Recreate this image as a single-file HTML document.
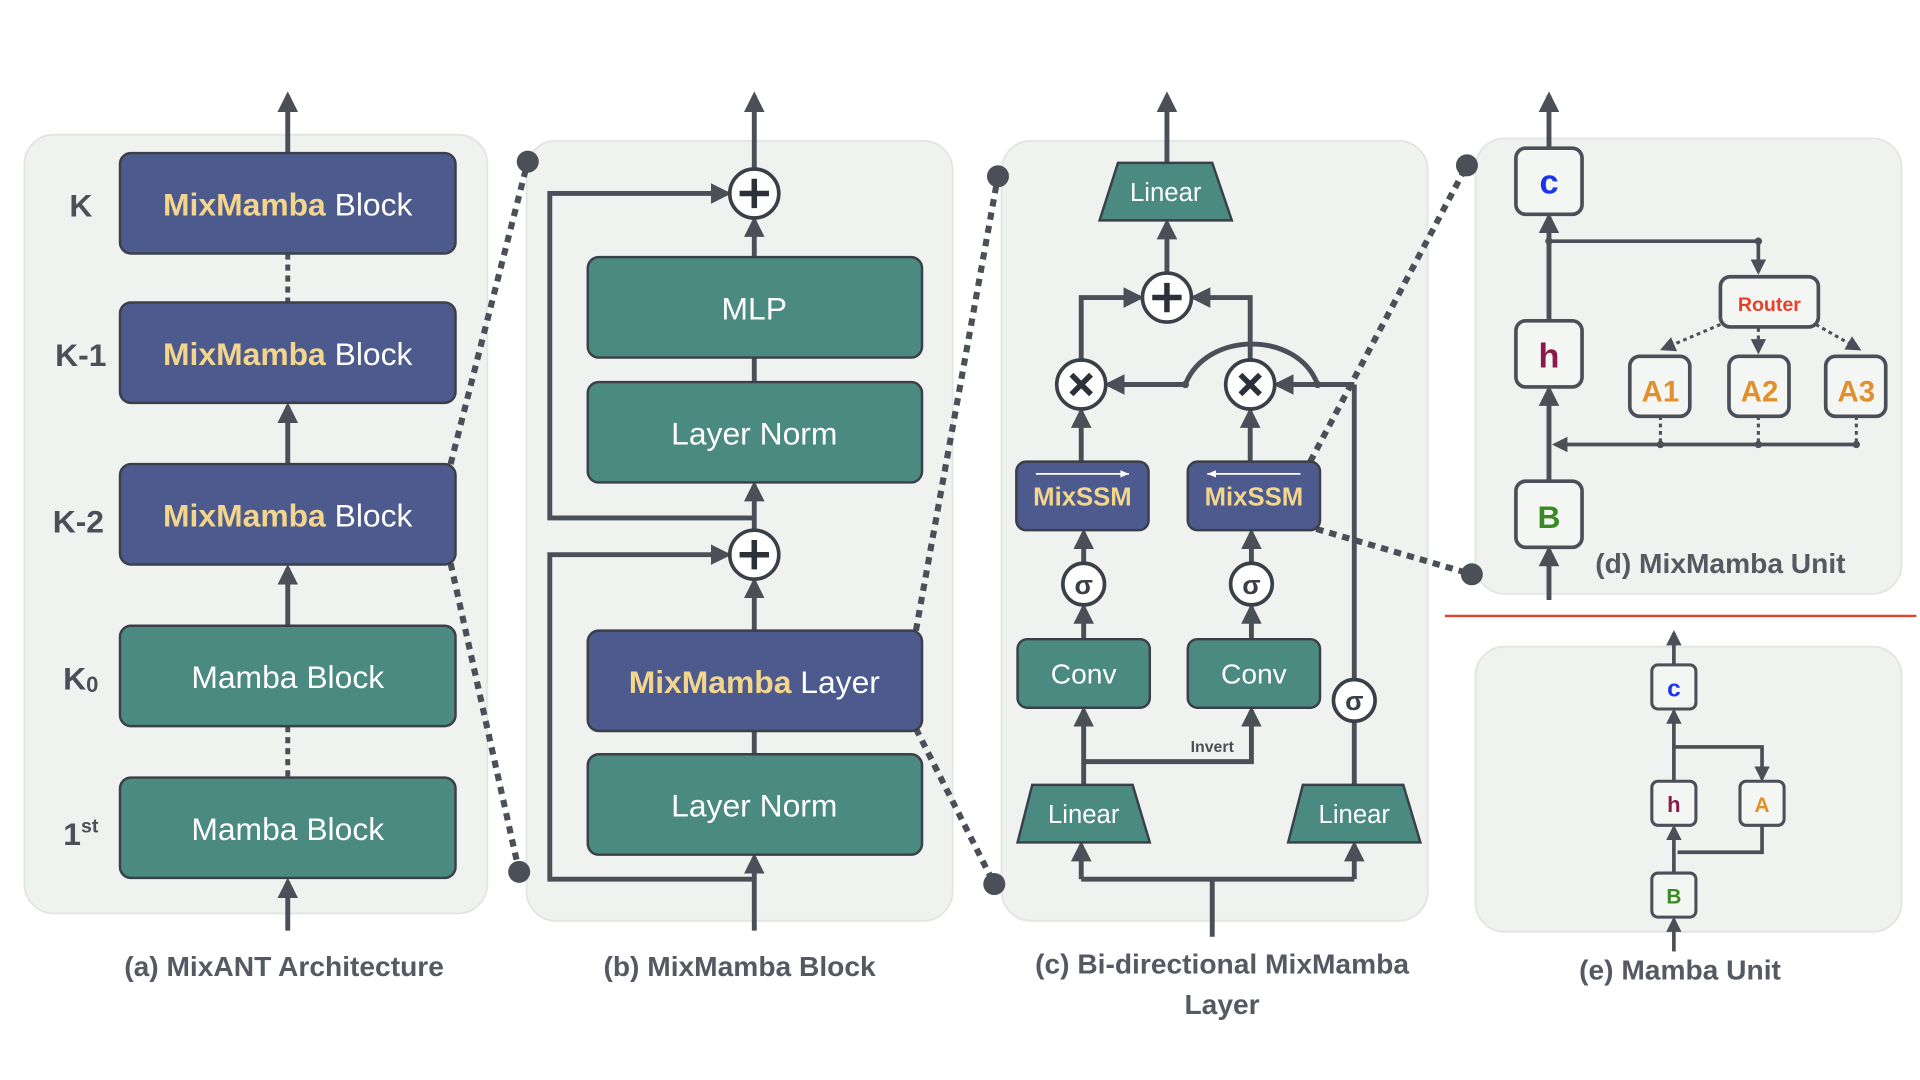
<!DOCTYPE html>
<html><head><meta charset="utf-8"><style>
html,body{margin:0;padding:0;background:#fff;}
svg{display:block;}
text{font-family:"Liberation Sans",sans-serif;}
</style></head><body>
<svg width="1920" height="1080" viewBox="0 0 1568 882" xmlns="http://www.w3.org/2000/svg">
<defs>
<marker id="ah" viewBox="0 0 10 10" refX="8" refY="5" markerWidth="4.2" markerHeight="4.2" orient="auto-start-reverse"><path d="M0,0 L10,5 L0,10 z" fill="#4b4f57"/></marker>
<marker id="as" viewBox="0 0 10 10" refX="8" refY="5" markerWidth="5" markerHeight="5" orient="auto"><path d="M0,0 L10,5 L0,10 z" fill="#4b4f57"/></marker>
</defs>
<g fill="#eff2ef" stroke="#e2e5e1" stroke-width="1.5">
<rect x="20" y="110" width="378" height="636" rx="24"/>
<rect x="430" y="115" width="348" height="637" rx="24"/>
<rect x="818" y="115" width="348" height="637" rx="24"/>
<rect x="1205" y="113" width="348" height="372" rx="24"/>
<rect x="1205" y="528" width="348" height="233" rx="24"/>
</g>
<g stroke="#4b4f57" stroke-width="4" fill="none">
<!-- panel a -->
<line x1="235" y1="125" x2="235" y2="78" marker-end="url(#ah)"/>
<line x1="235" y1="207" x2="235" y2="247" stroke-dasharray="5,4"/>
<line x1="235" y1="379" x2="235" y2="332" marker-end="url(#ah)"/>
<line x1="235" y1="511" x2="235" y2="464" marker-end="url(#ah)"/>
<line x1="235" y1="593" x2="235" y2="635" stroke-dasharray="5,4"/>
<line x1="235" y1="760" x2="235" y2="720" marker-end="url(#ah)"/>
<line x1="368" y1="379" x2="431" y2="132" stroke-dasharray="6,5" stroke-width="5"/>
<line x1="368" y1="460" x2="424" y2="712" stroke-dasharray="6,5" stroke-width="5"/>
<!-- panel b -->
<line x1="616" y1="138" x2="616" y2="78" marker-end="url(#ah)"/>
<line x1="616" y1="210" x2="616" y2="180" marker-end="url(#ah)"/>
<line x1="616" y1="292" x2="616" y2="312"/>
<line x1="616" y1="433" x2="616" y2="396" marker-end="url(#ah)"/>
<line x1="616" y1="515" x2="616" y2="475" marker-end="url(#ah)"/>
<line x1="616" y1="597" x2="616" y2="616"/>
<line x1="616" y1="760" x2="616" y2="700" marker-end="url(#ah)"/>
<polyline points="616,423 449,423 449,158 594,158" marker-end="url(#ah)"/>
<polyline points="616,718 449,718 449,453 594,453" marker-end="url(#ah)"/>
<line x1="748" y1="515" x2="815" y2="144" stroke-dasharray="6,5" stroke-width="5"/>
<line x1="748" y1="595" x2="812" y2="722" stroke-dasharray="6,5" stroke-width="5"/>
<!-- panel c -->
<line x1="953" y1="133" x2="953" y2="78" marker-end="url(#ah)"/>
<line x1="953" y1="223" x2="953" y2="182" marker-end="url(#ah)"/>
<polyline points="990,765 990,718"/>
<line x1="883" y1="718" x2="1106" y2="718"/>
<line x1="883" y1="718" x2="883" y2="690" marker-end="url(#ah)"/>
<line x1="1106" y1="718" x2="1106" y2="690" marker-end="url(#ah)"/>
<line x1="885" y1="641" x2="885" y2="580" marker-end="url(#ah)"/>
<polyline points="885,622 1022,622 1022,580" marker-end="url(#ah)"/>
<line x1="885" y1="522" x2="885" y2="496" marker-end="url(#ah)"/>
<line x1="1022" y1="522" x2="1022" y2="496" marker-end="url(#ah)"/>
<line x1="885" y1="460" x2="885" y2="435" marker-end="url(#ah)"/>
<line x1="1022" y1="460" x2="1022" y2="435" marker-end="url(#ah)"/>
<line x1="883" y1="377" x2="883" y2="336" marker-end="url(#ah)"/>
<line x1="1021" y1="377" x2="1021" y2="336" marker-end="url(#ah)"/>
<line x1="1106" y1="641" x2="1106" y2="590"/>
<line x1="1106" y1="555" x2="1106" y2="314"/>
<line x1="1106" y1="314" x2="1043" y2="314" marker-end="url(#ah)"/>
<path d="M1076,314 C1060,270 985,270 968,314"/>
<line x1="968" y1="314" x2="905" y2="314" marker-end="url(#ah)"/>
<polyline points="883,294 883,243 931,243" marker-end="url(#ah)"/>
<polyline points="1021,294 1021,243 975,243" marker-end="url(#ah)"/>
<line x1="1070" y1="377" x2="1198" y2="135" stroke-dasharray="6,5" stroke-width="5"/>
<line x1="1075" y1="432" x2="1202" y2="469" stroke-dasharray="6,5" stroke-width="5"/>
<!-- panel d -->
<line x1="1265" y1="121" x2="1265" y2="78" marker-end="url(#ah)"/>
<line x1="1265" y1="262" x2="1265" y2="177" marker-end="url(#ah)"/>
<line x1="1265" y1="393" x2="1265" y2="318" marker-end="url(#ah)"/>
<line x1="1265" y1="490" x2="1265" y2="449" marker-end="url(#ah)"/>
<polyline points="1265,197 1436,197 1436,222" marker-end="url(#ah)" stroke-width="3"/>
<line x1="1516" y1="363" x2="1270" y2="363" stroke-width="3" marker-end="url(#ah)"/>
<g stroke-width="2.5" stroke-dasharray="3,3">
<line x1="1405" y1="265" x2="1358" y2="285" marker-end="url(#as)"/>
<line x1="1436" y1="268" x2="1436" y2="287" marker-end="url(#as)"/>
<line x1="1483" y1="265" x2="1518" y2="285" marker-end="url(#as)"/>
<line x1="1356" y1="340" x2="1356" y2="363"/>
<line x1="1436" y1="340" x2="1436" y2="363"/>
<line x1="1516" y1="340" x2="1516" y2="363"/>
</g>
<!-- panel e -->
<line x1="1367" y1="543" x2="1367" y2="517" marker-end="url(#ah)" stroke-width="3"/>
<line x1="1367" y1="638" x2="1367" y2="581" marker-end="url(#ah)" stroke-width="3"/>
<line x1="1367" y1="713" x2="1367" y2="676" marker-end="url(#ah)" stroke-width="3"/>
<line x1="1367" y1="777" x2="1367" y2="751" marker-end="url(#ah)" stroke-width="3"/>
<polyline points="1367,610 1439,610 1439,636" marker-end="url(#ah)" stroke-width="3"/>
<polyline points="1439,674 1439,696 1370,696" stroke-width="3"/>
</g>
<g fill="#4b4f57">
<circle cx="431" cy="132" r="9"/><circle cx="424" cy="712" r="9"/>
<circle cx="815" cy="144" r="9"/><circle cx="812" cy="722" r="9"/>
<circle cx="1198" cy="135" r="9"/><circle cx="1202" cy="469" r="9"/>
<circle cx="968" cy="314" r="3"/><circle cx="1076" cy="314" r="3"/>
<circle cx="1265" cy="197" r="3"/><circle cx="1436" cy="197" r="3"/>
<circle cx="1356" cy="363" r="3"/><circle cx="1436" cy="363" r="3"/><circle cx="1516" cy="363" r="3"/>
</g>
<line x1="1180" y1="503" x2="1565" y2="503" stroke="#e0442e" stroke-width="2"/>
<!-- panel a blocks -->
<g stroke="#3a3f48" stroke-width="2">
<rect x="98" y="125" width="274" height="82" rx="9" fill="#4c5a8d"/>
<rect x="98" y="247" width="274" height="82" rx="9" fill="#4c5a8d"/>
<rect x="98" y="379" width="274" height="82" rx="9" fill="#4c5a8d"/>
<rect x="98" y="511" width="274" height="82" rx="9" fill="#4a8a80"/>
<rect x="98" y="635" width="274" height="82" rx="9" fill="#4a8a80"/>
<rect x="480" y="210" width="273" height="82" rx="9" fill="#4a8a80"/>
<rect x="480" y="312" width="273" height="82" rx="9" fill="#4a8a80"/>
<rect x="480" y="515" width="273" height="82" rx="9" fill="#4c5a8d"/>
<rect x="480" y="616" width="273" height="82" rx="9" fill="#4a8a80"/>
<rect x="830" y="377" width="108" height="56" rx="8" fill="#4c5a8d"/>
<rect x="970" y="377" width="108" height="56" rx="8" fill="#4c5a8d"/>
<rect x="831" y="522" width="108" height="56" rx="8" fill="#4a8a80"/>
<rect x="970" y="522" width="108" height="56" rx="8" fill="#4a8a80"/>
<polygon points="913,133 990,133 1006,180 898,180" fill="#4a8a80"/>
<polygon points="843,641 925,641 939,688 831,688" fill="#4a8a80"/>
<polygon points="1064,641 1146,641 1160,688 1052,688" fill="#4a8a80"/>
</g>
<g stroke="#fff" stroke-width="1.5"><line x1="846" y1="387" x2="922" y2="387"/><line x1="986" y1="387" x2="1062" y2="387"/></g>
<path d="M922,387 l-7,-3 v6z M986,387 l7,-3 v6z" fill="#fff"/>
<g font-size="26" text-anchor="middle" fill="#fff">
<text x="235" y="176"><tspan fill="#f3d58c" font-weight="bold">MixMamba</tspan> Block</text>
<text x="235" y="298"><tspan fill="#f3d58c" font-weight="bold">MixMamba</tspan> Block</text>
<text x="235" y="430"><tspan fill="#f3d58c" font-weight="bold">MixMamba</tspan> Block</text>
<text x="235" y="562">Mamba Block</text>
<text x="235" y="686">Mamba Block</text>
<text x="616" y="261">MLP</text>
<text x="616" y="363">Layer Norm</text>
<text x="616" y="566"><tspan fill="#f3d58c" font-weight="bold">MixMamba</tspan> Layer</text>
<text x="616" y="667">Layer Norm</text>
</g>
<g font-size="21" text-anchor="middle" fill="#fff">
<text x="952" y="164">Linear</text>
<text x="885" y="672">Linear</text>
<text x="1106" y="672">Linear</text>
<text x="885" y="558" font-size="23">Conv</text>
<text x="1024" y="558" font-size="23">Conv</text>
<text x="884" y="413" fill="#f3d58c" font-weight="bold">MixSSM</text>
<text x="1024" y="413" fill="#f3d58c" font-weight="bold">MixSSM</text>
</g>
<g font-size="26" font-weight="bold" fill="#4b4f57" text-anchor="middle">
<text x="66" y="177">K</text><text x="66" y="299">K-1</text><text x="64" y="435">K-2</text>
<text x="66" y="563">K<tspan font-size="18" dy="2">0</tspan></text>
<text x="66" y="690">1<tspan font-size="16" dy="-10">st</tspan></text>
</g>
<!-- circles -->
<g fill="#fff" stroke="#3a3f48" stroke-width="3">
<circle cx="616" cy="158" r="20"/><circle cx="616" cy="453" r="20"/><circle cx="953" cy="243" r="20"/>
<circle cx="883" cy="314" r="20"/><circle cx="1021" cy="314" r="20"/>
<circle cx="885" cy="477" r="17"/><circle cx="1022" cy="477" r="17"/><circle cx="1106" cy="572" r="17"/>
</g>
<g stroke="#2c3038" stroke-width="4.5">
<path d="M604,158h24M616,146v24M604,453h24M616,441v24M941,243h24M953,231v24"/>
<path d="M875,306l16,16M891,306l-16,16M1013,306l16,16M1029,306l-16,16"/>
</g>
<g font-size="22" font-weight="bold" fill="#3a3f48" text-anchor="middle">
<text x="885" y="485">σ</text><text x="1022" y="485">σ</text><text x="1106" y="580">σ</text>
</g>
<text x="990" y="614" font-size="13" font-weight="bold" fill="#4b4f57" text-anchor="middle">Invert</text>
<!-- panel d boxes -->
<g fill="#f4f6f4" stroke="#4b4f57" stroke-width="3">
<rect x="1238" y="121" width="54" height="54" rx="8"/>
<rect x="1238" y="262" width="54" height="54" rx="8"/>
<rect x="1238" y="393" width="54" height="54" rx="8"/>
<rect x="1405" y="226" width="80" height="41" rx="8"/>
<rect x="1331" y="291" width="49" height="49" rx="8"/>
<rect x="1412" y="291" width="49" height="49" rx="8"/>
<rect x="1491" y="291" width="49" height="49" rx="8"/>
<rect x="1349" y="543" width="36" height="36" rx="5" stroke-width="2.5"/>
<rect x="1349" y="638" width="36" height="36" rx="5" stroke-width="2.5"/>
<rect x="1349" y="713" width="36" height="36" rx="5" stroke-width="2.5"/>
<rect x="1421" y="638" width="36" height="36" rx="5" stroke-width="2.5"/>
</g>
<g font-weight="bold" text-anchor="middle">
<text x="1265" y="158" font-size="28" fill="#1a35f0">c</text>
<text x="1265" y="300" font-size="28" fill="#8a1a4a">h</text>
<text x="1265" y="431" font-size="26" fill="#3a8a24">B</text>
<text x="1445" y="254" font-size="16" fill="#e8402a">Router</text>
<text x="1356" y="328" font-size="24" fill="#e0902c">A1</text>
<text x="1437" y="328" font-size="24" fill="#e0902c">A2</text>
<text x="1516" y="328" font-size="24" fill="#e0902c">A3</text>
<text x="1367" y="569" font-size="20" fill="#1a35f0">c</text>
<text x="1367" y="663" font-size="18" fill="#8a1a4a">h</text>
<text x="1367" y="738" font-size="17" fill="#3a8a24">B</text>
<text x="1439" y="663" font-size="17" fill="#e0902c">A</text>
</g>
<g font-size="23" font-weight="bold" fill="#555a62" text-anchor="middle">
<text x="232" y="797">(a) MixANT Architecture</text>
<text x="604" y="797">(b) MixMamba Block</text>
<text x="998" y="795">(c) Bi-directional MixMamba</text>
<text x="998" y="828">Layer</text>
<text x="1405" y="468">(d) MixMamba Unit</text>
<text x="1372" y="800">(e) Mamba Unit</text>
</g>
</svg>
</body></html>
